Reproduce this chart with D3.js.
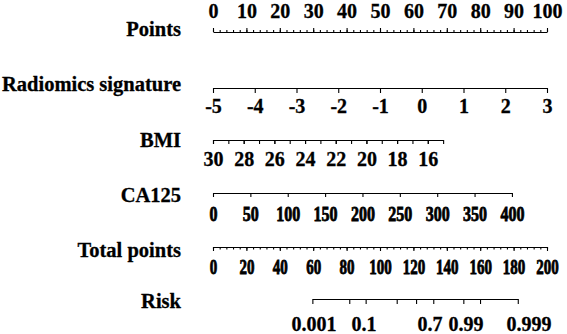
<!DOCTYPE html>
<html>
<head>
<meta charset="utf-8">
<script src="https://cdn.jsdelivr.net/npm/d3@7"></script>
<style>
  body { margin: 0; background: #fff; }
  svg text { font-family: "Liberation Serif", "Times New Roman", serif; font-weight: bold; fill: #000; stroke: #000; stroke-width: 0.3px; }
</style>
</head>
<body>
<div id="chart"></div>
<script>
// nomogram values
const pointsDomain = [0, 100];
const pointsTicks = d3.range(0, 101, 10);
const pointsMinor = d3.range(0, 101, 2);

const radiomicsTicks = [-5, -4, -3, -2, -1, 0, 1, 2, 3];
const radiomicsPoints = [0, 100];          // points for -5 and 3

const bmiDomain = [30, 15];
const bmiPoints = [0, 68.9];               // points for 30 and 15
const bmiLabels = [30, 28, 26, 24, 22, 20, 18, 16];
const bmiMinor = d3.range(30, 14, -1);

const ca125Domain = [0, 400];
const ca125Points = [0, 89.5];
const ca125Ticks = [0, 50, 100, 150, 200, 250, 300, 350, 400];

const totalDomain = [0, 200];
const totalTicks = d3.range(0, 201, 20);
const totalMinor = d3.range(0, 201, 4);

// risk axis: total points where each tick sits, and labelled values
const riskTickTotals = [59.5, 81.6, 91.4, 110, 121.6, 131.9, 149.9, 159.9, 182.5];
const riskLabels = ["0.001", "0.1", "0.7", "0.99", "0.999"];
const riskLabelTotals = [60.5, 90.4, 130, 151.5, 189.2];

const W = 567, H = 334;
const titleX = 181;

const svg = d3.select("#chart").append("svg")
    .attr("width", W)
    .attr("height", H);

const x = d3.scaleLinear().domain(pointsDomain).range([213, 547]);
const xTotal = d3.scaleLinear().domain(totalDomain).range([213, 547]);

function title(text, y) {
    svg.append("text")
        .attr("x", titleX)
        .attr("y", y)
        .attr("text-anchor", "end")
        .style("font-size", "20.5px")
        .text(text);
}

function styleAxis(g, squeeze) {
    g.select(".domain").attr("stroke", "#000").attr("stroke-width", 1.1);
    g.selectAll(".tick line").attr("stroke", "#000").attr("stroke-width", 1.1);
    g.selectAll("text")
        .attr("font-family", null)
        .style("font-size", "20px");
    if (squeeze) {
        g.selectAll(".tick text")
            .attr("transform", `scale(${squeeze},1)`)
            .style("stroke-width", "0.8px");
    }
}

// Points
title("Points", 36);
const ptsG = svg.append("g").attr("transform", "translate(0,32)");
ptsG.call(d3.axisTop(x).tickValues(pointsMinor).tickSize(2).tickSizeOuter(0).tickFormat(""));
ptsG.append("g").call(d3.axisTop(x).tickValues(pointsTicks).tickSize(4).tickSizeOuter(0).tickPadding(10))
    .call(g => g.select(".domain").remove());
styleAxis(ptsG);

// Radiomics signature
title("Radiomics signature", 91);
const radScale = d3.scaleLinear().domain([-5, 3]).range(radiomicsPoints.map(x));
const radG = svg.append("g").attr("transform", "translate(0,88)")
    .call(d3.axisBottom(radScale).tickValues(radiomicsTicks).tickSize(5).tickSizeOuter(0).tickPadding(6));
radG.selectAll(".tick text").text(d => d < 0 ? "-" + Math.abs(d) : d);
styleAxis(radG);

// BMI
title("BMI", 147);
const bmiScale = d3.scaleLinear().domain(bmiDomain).range(bmiPoints.map(x));
const bmiG = svg.append("g").attr("transform", "translate(0,140)");
bmiG.call(d3.axisBottom(bmiScale).tickValues(bmiMinor).tickSize(4).tickSizeOuter(0).tickFormat(""));
bmiG.append("g").call(d3.axisBottom(bmiScale).tickValues(bmiLabels).tickSize(4).tickSizeOuter(0).tickPadding(8))
    .call(g => g.select(".domain").remove());
styleAxis(bmiG);

// CA125
title("CA125", 202);
const caScale = d3.scaleLinear().domain(ca125Domain).range(ca125Points.map(x));
const caG = svg.append("g").attr("transform", "translate(0,193)")
    .call(d3.axisBottom(caScale).tickValues(ca125Ticks).tickSize(4).tickSizeOuter(0).tickPadding(10));
styleAxis(caG, 0.8);

// Total points
title("Total points", 257);
const totG = svg.append("g").attr("transform", "translate(0,247)");
totG.call(d3.axisBottom(xTotal).tickValues(totalMinor).tickSize(2.5).tickSizeOuter(0).tickFormat(""));
totG.append("g").call(d3.axisBottom(xTotal).tickValues(totalTicks).tickSize(4).tickSizeOuter(0).tickPadding(9))
    .call(g => g.select(".domain").remove());
styleAxis(totG, 0.75);

// Risk
title("Risk", 308);
const riskExtent = d3.extent(riskTickTotals);
const riskScale = d3.scaleLinear().domain(riskExtent).range(riskExtent.map(xTotal));
const riskG = svg.append("g").attr("transform", "translate(0,299)")
    .call(d3.axisBottom(riskScale).tickValues(riskTickTotals).tickSize(5).tickSizeOuter(0).tickFormat(""));
riskG.selectAll(".risk-label")
    .data(riskLabels)
    .enter().append("text")
    .attr("class", "risk-label")
    .attr("x", (d, i) => xTotal(riskLabelTotals[i]))
    .attr("y", 32)
    .attr("text-anchor", "middle")
    .text(d => d);
styleAxis(riskG);
</script>
</body>
</html>
